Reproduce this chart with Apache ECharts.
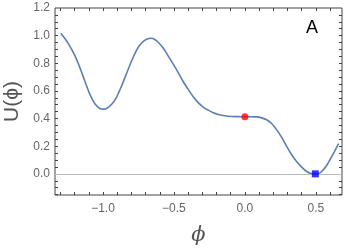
<!DOCTYPE html>
<html><head><meta charset="utf-8">
<script src="https://cdn.jsdelivr.net/npm/echarts@6/dist/echarts.min.js"></script>
<style>html,body{margin:0;padding:0;background:#fff}#c{width:346px;height:249px}</style>
</head><body><div id="c"></div>
<script>
var phi = [-1.297,-1.245,-1.198,-1.163,-1.128,-1.092,-1.057,-1.022,-0.999,-0.975,-0.939,-0.904,-0.869,-0.834,-0.798,-0.763,-0.728,-0.693,-0.660,-0.635,-0.611,-0.576,-0.541,-0.505,-0.47,-0.435,-0.4,-0.364,-0.329,-0.294,-0.259,-0.223,-0.188,-0.141,-0.094,-0.047,0.0,0.035,0.082,0.118,0.153,0.188,0.223,0.259,0.294,0.329,0.364,0.4,0.435,0.465,0.496,0.529,0.552,0.576,0.599,0.629,0.66];
var U   = [1.017,0.944,0.855,0.77,0.672,0.575,0.507,0.473,0.468,0.473,0.503,0.556,0.636,0.726,0.818,0.896,0.947,0.974,0.981,0.972,0.952,0.91,0.854,0.794,0.733,0.668,0.612,0.558,0.515,0.483,0.461,0.442,0.43,0.42,0.415,0.414,0.413,0.413,0.412,0.405,0.391,0.364,0.32,0.264,0.199,0.138,0.09,0.049,0.017,0.003,0.0,0.007,0.029,0.06,0.102,0.158,0.218];
var redPoint = [0.0, 0.413];
var bluePoint = [0.496, 0.0];
var xTicks = [-1.3,-1.2,-1.1,-1.0,-0.9,-0.8,-0.7,-0.6,-0.5,-0.4,-0.3,-0.2,-0.1,0.0,0.1,0.2,0.3,0.4,0.5,0.6];
var xLabels = [-1.0,-0.5,0.0,0.5];
var yTicks = [-0.15,-0.1,-0.05,0.0,0.05,0.1,0.15,0.2,0.25,0.3,0.35,0.4,0.45,0.5,0.55,0.6,0.65,0.7,0.75,0.8,0.85,0.9,0.95,1.0,1.05,1.1,1.15];
var yLabels = [0.0,0.2,0.4,0.6,0.8,1.0,1.2];
var xLabel = 'ϕ', yLabel = 'U(ϕ)', panelLabel = 'A';
var XMIN=-1.338, XMAX=0.684, YMIN=-0.153, YMAX=1.2;

function fmt(v){ var s=Math.abs(v).toFixed(1); return (v<-1e-9?'\u2212':'')+s; }
var frameCol='#444', labCol='#666';
function mkX(pos, show, name){
  return {type:'value', position:pos, min:XMIN, max:XMAX,
    axisLine:{show:false,onZero:false},
    axisTick:{show:true,inside:true,length:3,customValues:xTicks,lineStyle:{color:frameCol}},
    axisLabel:{show:show,customValues:xLabels,formatter:fmt,color:labCol,fontSize:12,fontFamily:'Liberation Sans',margin:8},
    splitLine:{show:false}, name:name||'', nameLocation:'middle', nameGap:30,
    nameTextStyle:{fontSize:21,color:'#555',fontStyle:'italic',fontFamily:'DejaVu Serif'}};
}
function mkY(pos, show, name){
  return {type:'value', position:pos, min:YMIN, max:YMAX,
    axisLine:{show:false,onZero:false},
    axisTick:{show:true,inside:true,length:3,customValues:yTicks,lineStyle:{color:frameCol}},
    axisLabel:{show:show,customValues:yLabels,formatter:fmt,color:labCol,fontSize:12,fontFamily:'Liberation Sans',margin:5},
    splitLine:{show:false}, name:name||'', nameLocation:'middle', nameGap:32,
    nameTextStyle:{fontSize:21,color:'#555',fontFamily:'Liberation Sans'}};
}
var line = phi.map(function(p,i){return [p,U[i]];});
var chart = echarts.init(document.getElementById('c'));
chart.setOption({
  animation:false,
  grid:{left:55,right:4,top:8,bottom:54,containLabel:false,outerBoundsMode:'none',show:true,borderColor:frameCol,borderWidth:1,backgroundColor:'transparent'},
  xAxis:[mkX('bottom',true,xLabel), mkX('top',false)],
  yAxis:[mkY('left',true,yLabel), mkY('right',false)],
  graphic:[{type:'text',left:306,top:19,style:{text:panelLabel,fontSize:18,fill:'#000',fontFamily:'Liberation Sans'}}],
  series:[
    {type:'line',data:line,smooth:0.3,showSymbol:false,lineStyle:{color:'#5b7fb4',width:1.6},
     markLine:{silent:true,symbol:'none',label:{show:false},lineStyle:{color:'#bbb',width:1,type:'solid'},data:[{yAxis:0}]}},
    {type:'scatter',data:[redPoint],symbol:'circle',symbolSize:7,itemStyle:{color:'#ff0000'},z:5},
    {type:'scatter',data:[bluePoint],symbol:'rect',symbolSize:7,itemStyle:{color:'#0000ff'},z:5}
  ]
});
</script></body></html>
